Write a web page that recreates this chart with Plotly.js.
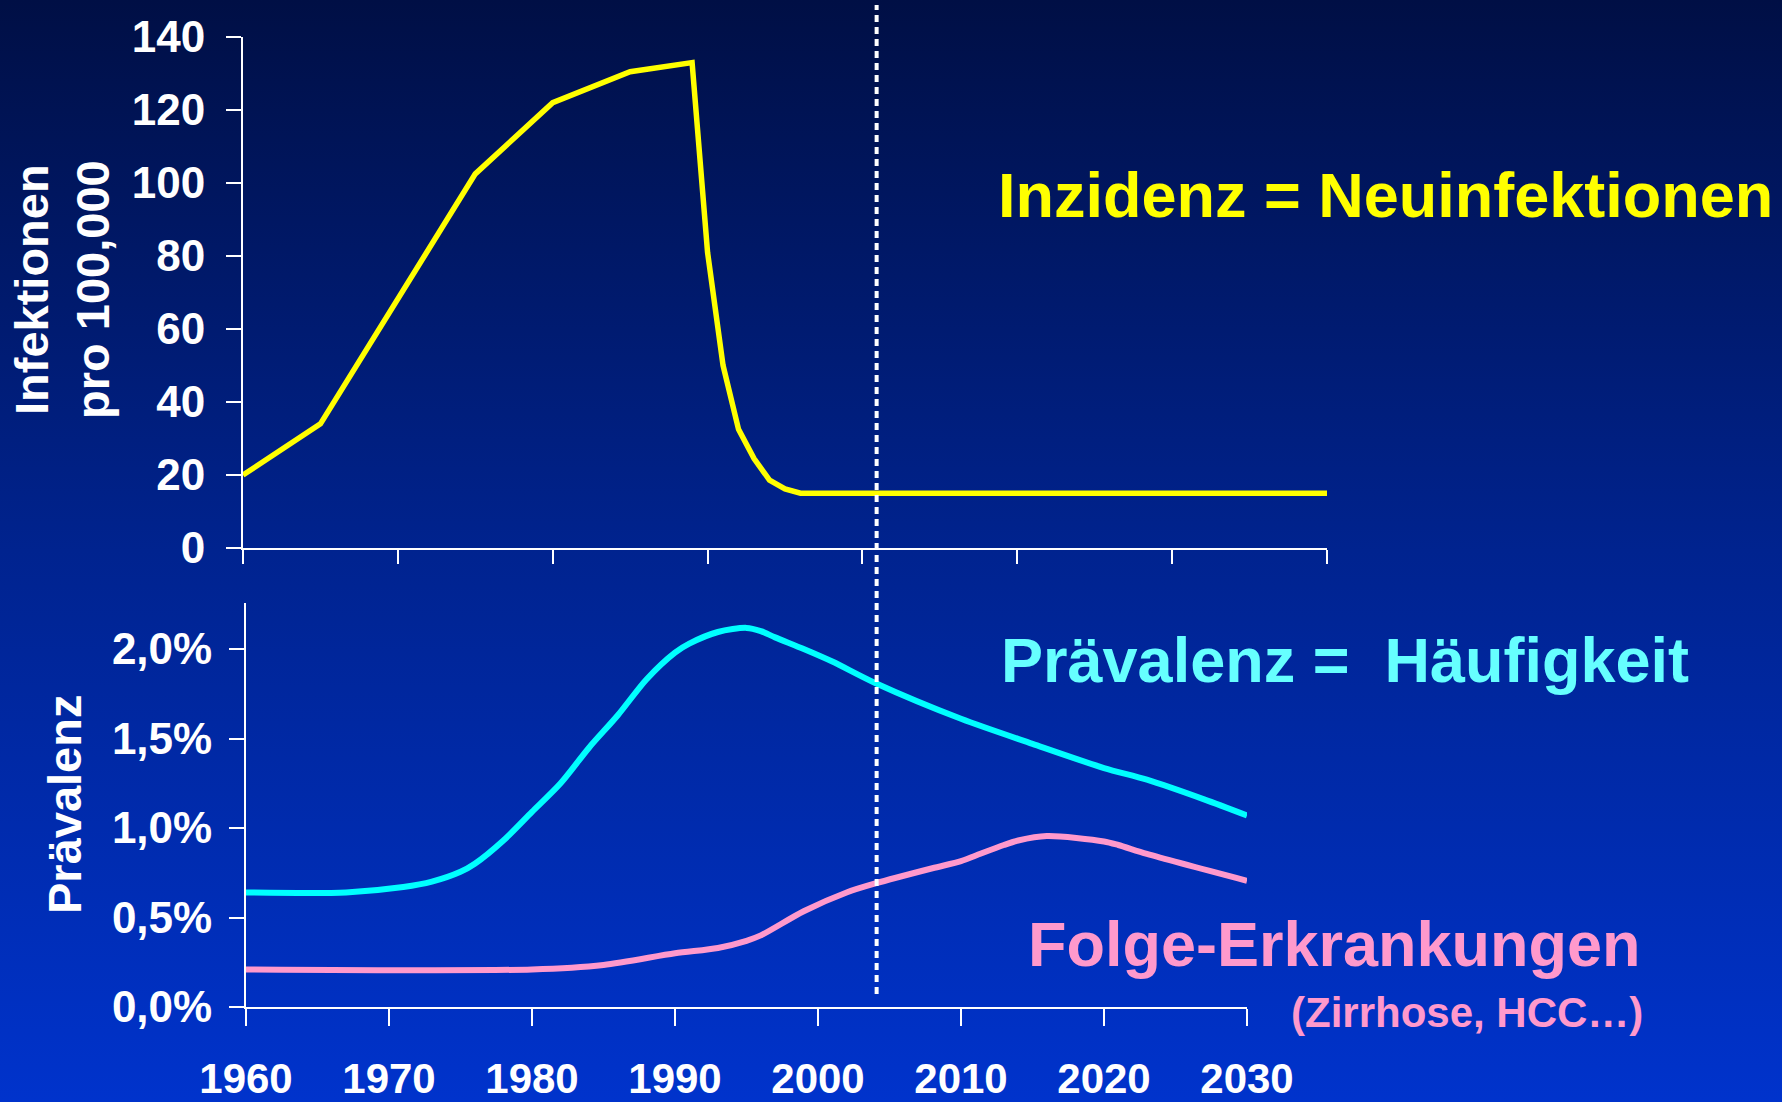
<!DOCTYPE html>
<html>
<head>
<meta charset="utf-8">
<script src="https://cdn.plot.ly/plotly-3.0.1.min.js"></script>
<style>
  html, body { margin: 0; padding: 0; }
  body { width: 1782px; height: 1102px; background: linear-gradient(to bottom, #000f45 0%, #00238f 50%, #0033cc 100%); overflow: hidden; }
  #chart { width: 1782px; height: 1102px; }
</style>
</head>
<body>
<div id="chart"></div>
<script>
// ---- data ----
const incidenceYears  = [1960, 1965, 1975, 1980, 1985, 1989, 1990, 1991, 1992, 1993, 1994, 1995, 1996, 1997, 2030];
const incidenceValues = [20,   34,   102.5, 122, 130.5, 133, 81,   50,   32.5, 24.5, 18.6, 16.2, 15,   15,   15];

const prevalenceYears  = [1960, 1967, 1971, 1973, 1975, 1976, 1978, 1980, 1982, 1984, 1986, 1988, 1990, 1991, 1993, 1995, 1996, 1997, 1999, 2001, 2004, 2010, 2015, 2020, 2023, 2027, 2030];
const prevalenceValues = [0.64, 0.64, 0.67, 0.70, 0.755, 0.80, 0.93, 1.09, 1.25, 1.45, 1.63, 1.83, 1.98, 2.03, 2.095, 2.118, 2.10, 2.065, 2.00, 1.93, 1.81, 1.61, 1.47, 1.335, 1.27, 1.16, 1.07];

const sequelaeYears  = [1960, 1980, 1985, 1990, 1993, 1995, 1996, 1999, 2002, 2004, 2008, 2010, 2011, 2013, 2014, 2016, 2020, 2021, 2023, 2030];
const sequelaeValues = [0.21, 0.21, 0.235, 0.30, 0.33, 0.37, 0.40, 0.535, 0.64, 0.69, 0.775, 0.815, 0.845, 0.905, 0.93, 0.955, 0.925, 0.905, 0.855, 0.705];

const yearTicks = [1960, 1970, 1980, 1990, 2000, 2010, 2020, 2030];
const incidenceTicks = [0, 20, 40, 60, 80, 100, 120, 140];
const prevalenceTicks = [0, 0.5, 1.0, 1.5, 2.0];
const prevalenceTickText = ["0,0%", "0,5%", "1,0%", "1,5%", "2,0%"];
const markerYear = 2004.1;

const W = 1782, H = 1102;
const px = v => v / W;
const py = v => 1 - v / H;

const FONT = "Liberation Sans, Arial, Helvetica, sans-serif";
const tickFont = { family: FONT, size: 44, color: "#ffffff", weight: "bold" };
const yearFont = { family: FONT, size: 42, color: "#ffffff", weight: "bold" };

const traces = [
  { x: incidenceYears, y: incidenceValues, xaxis: "x", yaxis: "y", type: "scatter", mode: "lines",
    line: { color: "#ffff00", width: 5.5 }, hoverinfo: "skip" },
  { x: prevalenceYears, y: prevalenceValues, xaxis: "x2", yaxis: "y2", type: "scatter", mode: "lines",
    line: { color: "#00ffff", width: 6, shape: "spline", smoothing: 0.8 }, hoverinfo: "skip" },
  { x: sequelaeYears, y: sequelaeValues, xaxis: "x2", yaxis: "y2", type: "scatter", mode: "lines",
    line: { color: "#ff99cc", width: 6, shape: "spline", smoothing: 0.8 }, hoverinfo: "skip" }
];

const axisCommon = {
  showgrid: false, zeroline: false, showline: true, linecolor: "#ffffff", linewidth: 2,
  ticks: "outside", tickcolor: "#ffffff", tickwidth: 2, tickfont: tickFont, fixedrange: true
};

const layout = {
  width: W, height: H,
  margin: { l: 0, r: 0, t: 0, b: 0 },
  paper_bgcolor: "rgba(0,0,0,0)",
  plot_bgcolor: "rgba(0,0,0,0)",
  showlegend: false,
  xaxis: Object.assign({}, axisCommon, {
    domain: [px(243), px(1327)], range: [1960, 2030], anchor: "y",
    tickmode: "array", tickvals: yearTicks, showticklabels: false, ticklen: 14
  }),
  yaxis: Object.assign({}, axisCommon, {
    domain: [py(548), py(37)], range: [0, 140], anchor: "x",
    tickmode: "array", tickvals: incidenceTicks, ticklen: 15, ticklabelstandoff: 12
  }),
  xaxis2: Object.assign({}, axisCommon, {
    domain: [px(246), px(1247)], range: [1960, 2030], anchor: "y2",
    tickmode: "array", tickvals: yearTicks, ticklen: 17, ticklabelstandoff: 17, tickfont: yearFont
  }),
  yaxis2: Object.assign({}, axisCommon, {
    domain: [py(1007), py(603)], range: [0, 2.257], anchor: "x2",
    tickmode: "array", tickvals: prevalenceTicks, ticktext: prevalenceTickText, ticklen: 15, ticklabelstandoff: 8
  }),
  shapes: [
    { type: "line", xref: "x2", yref: "paper", x0: markerYear, x1: markerYear, y0: py(994), y1: py(5),
      line: { color: "#ffffff", width: 4, dash: "7px,5px" } }
  ],
  annotations: [
    { xref: "paper", yref: "paper", x: px(62), y: py(290), xanchor: "center", yanchor: "middle",
      text: "Infektionen<br>pro 100,000", textangle: -90, showarrow: false,
      font: { family: FONT, size: 47, color: "#ffffff", weight: "bold" } },
    { xref: "paper", yref: "paper", x: px(64), y: py(805), xanchor: "center", yanchor: "middle",
      text: "Prävalenz", textangle: -90, showarrow: false,
      font: { family: FONT, size: 47, color: "#ffffff", weight: "bold" } },
    { xref: "paper", yref: "paper", x: px(996), y: py(195), xanchor: "left", yanchor: "middle",
      text: "Inzidenz = Neuinfektionen", showarrow: false,
      font: { family: FONT, size: 63, color: "#ffff00", weight: "bold" } },
    { xref: "paper", yref: "paper", x: px(999), y: py(660), xanchor: "left", yanchor: "middle",
      text: "Prävalenz =\u00a0 Häufigkeit", showarrow: false,
      font: { family: FONT, size: 63, color: "#66ffff", weight: "bold" } },
    { xref: "paper", yref: "paper", x: px(1643), y: py(944), xanchor: "right", yanchor: "middle",
      text: "Folge-Erkrankungen", showarrow: false,
      font: { family: FONT, size: 63, color: "#ff99cc", weight: "bold" } },
    { xref: "paper", yref: "paper", x: px(1645), y: py(1012), xanchor: "right", yanchor: "middle",
      text: "(Zirrhose, HCC…)", showarrow: false,
      font: { family: FONT, size: 42, color: "#ff99cc", weight: "bold" } }
  ]
};

Plotly.newPlot("chart", traces, layout, { displayModeBar: false, staticPlot: true });
</script>
</body>
</html>
